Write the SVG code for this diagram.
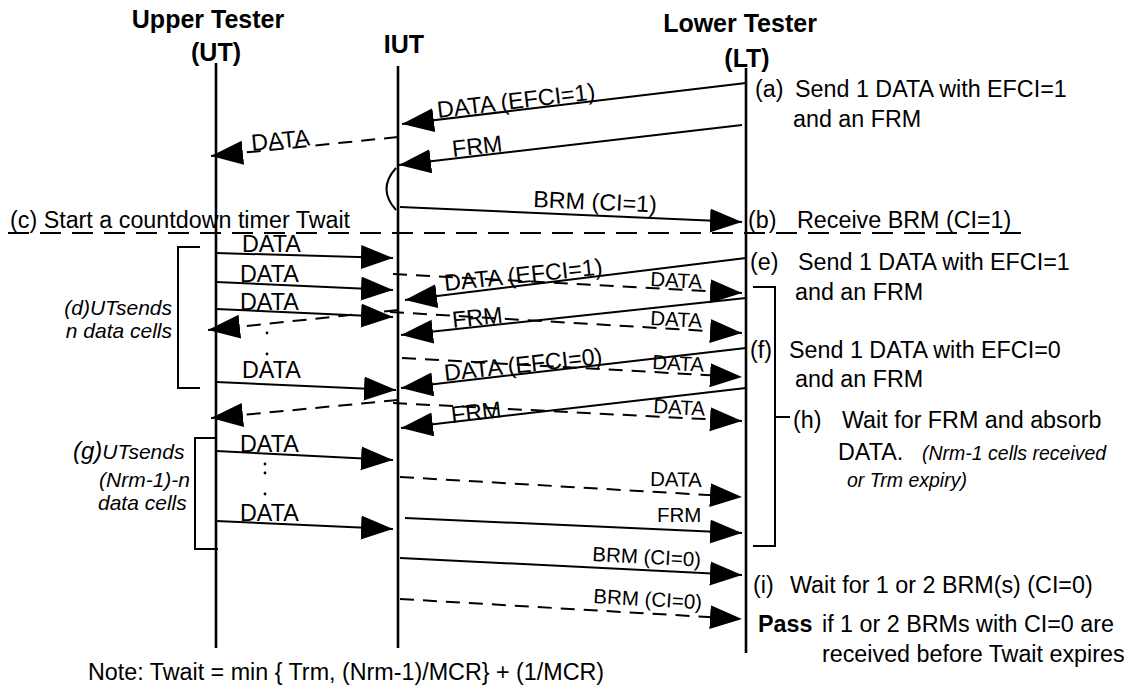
<svg xmlns="http://www.w3.org/2000/svg" width="1133" height="688" viewBox="0 0 1133 688">
<style>
text{font-family:"Liberation Sans",Arial,sans-serif;fill:#000}
.t{font-size:25px;font-weight:bold}
.n{font-size:23.3px}
.m{font-size:20.5px}
.i{font-size:21px;font-style:italic}
.life{stroke:#000;stroke-width:2.6;fill:none}
.s{stroke:#000;stroke-width:2;fill:none;marker-end:url(#ah)}
.d{stroke:#000;stroke-width:2;fill:none;stroke-dasharray:14 9;marker-end:url(#ah)}
.br{stroke:#000;stroke-width:2;fill:none}
.dot{fill:#000}
</style>
<defs>
<marker id="ah" markerUnits="userSpaceOnUse" markerWidth="33" markerHeight="25" refX="32" refY="12" orient="auto">
<path d="M0,0 L32,12 L0,24 z" fill="#000"/>
</marker>
</defs>
<rect width="1133" height="688" fill="#fff"/>

<g id="ut">
<text class="t" x="208" y="28" text-anchor="middle">Upper Tester</text>
<text class="t" x="216" y="61" text-anchor="middle">(UT)</text>
<line class="life" x1="216" y1="63" x2="216" y2="648"/>
</g>
<g id="iut">
<text class="t" x="404" y="53" text-anchor="middle">IUT</text>
<line class="life" x1="398" y1="66" x2="398" y2="648"/>
</g>
<g id="lt">
<text class="t" x="740" y="32" text-anchor="middle">Lower Tester</text>
<text class="t" x="747" y="67" text-anchor="middle">(LT)</text>
<line class="life" x1="746" y1="68" x2="746" y2="653"/>
</g>

<g id="timer">
<line x1="8" y1="233" x2="1030" y2="233" stroke="#000" stroke-width="2" stroke-dasharray="21 11"/>
<text class="n" x="10" y="228">(c) Start a countdown timer Twait</text>
</g>

<g id="connectors">
<line class="s" x1="746" y1="83" x2="402" y2="124"/>
<text class="n" x="438" y="118" transform="rotate(-6.8 438 118)">DATA (EFCI=1)</text>
<line class="s" x1="742" y1="125" x2="399" y2="165"/>
<text class="n" x="453" y="157" transform="rotate(-6.6 453 157)">FRM</text>
<line class="d" x1="398" y1="137" x2="211" y2="156"/>
<text class="n" x="252" y="151" transform="rotate(-5.8 252 151)">DATA</text>
<path class="br" d="M396,168 Q377,189 396,210"/>
<line class="s" x1="400" y1="207" x2="742" y2="222"/>
<text class="n" x="533" y="207" transform="rotate(2.5 533 207)">BRM (CI=1)</text>

<line class="s" x1="216" y1="253" x2="393" y2="258"/>
<text class="n" x="242" y="252">DATA</text>
<line class="s" x1="216" y1="282" x2="393" y2="290"/>
<text class="n" x="240" y="282">DATA</text>
<line class="s" x1="216" y1="309" x2="393" y2="317"/>
<text class="n" x="240" y="310">DATA</text>
<circle class="dot" cx="267" cy="333" r="1.4"/>
<circle class="dot" cx="267" cy="354" r="1.4"/>
<line class="s" x1="216" y1="382" x2="396" y2="390"/>
<text class="n" x="242" y="378">DATA</text>

<line class="d" x1="393" y1="274" x2="742" y2="293"/>
<text class="m" x="650" y="286" transform="rotate(3 650 286)">DATA</text>
<line class="s" x1="746" y1="258" x2="405" y2="300"/>
<text class="n" x="445" y="291" transform="rotate(-6 445 291)">DATA (EFCI=1)</text>
<line class="d" x1="398" y1="310" x2="208" y2="330"/>
<line class="d" x1="390" y1="312" x2="742" y2="333"/>
<text class="m" x="650" y="325" transform="rotate(3 650 325)">DATA</text>
<line class="s" x1="746" y1="298" x2="401" y2="335"/>
<text class="n" x="453" y="328" transform="rotate(-6.1 453 328)">FRM</text>
<line class="d" x1="402" y1="358" x2="742" y2="377"/>
<text class="m" x="652" y="369" transform="rotate(3 652 369)">DATA</text>
<line class="s" x1="746" y1="348" x2="401" y2="388"/>
<text class="n" x="445" y="381" transform="rotate(-6.2 445 381)">DATA (EFCI=0)</text>
<line class="d" x1="393" y1="403" x2="742" y2="421"/>
<text class="m" x="653" y="413" transform="rotate(3 653 413)">DATA</text>
<line class="s" x1="746" y1="388" x2="401" y2="428"/>
<text class="n" x="452" y="423" transform="rotate(-6.6 452 423)">FRM</text>
<line class="d" x1="398" y1="400" x2="211" y2="418"/>

<line class="s" x1="216" y1="451" x2="393" y2="460"/>
<text class="n" x="240" y="452">DATA</text>
<circle class="dot" cx="265" cy="464" r="1.4"/>
<circle class="dot" cx="265" cy="473" r="1.4"/>
<circle class="dot" cx="265" cy="494" r="1.4"/>
<line class="s" x1="216" y1="521" x2="393" y2="529"/>
<text class="n" x="240" y="521">DATA</text>

<line class="d" x1="400" y1="477" x2="742" y2="497"/>
<text class="m" x="650" y="486" transform="rotate(1 650 486)">DATA</text>
<line class="s" x1="405" y1="518" x2="742" y2="533"/>
<text class="m" x="657" y="522">FRM</text>
<line class="s" x1="400" y1="558" x2="742" y2="575"/>
<text class="m" x="592" y="561" transform="rotate(3 592 561)">BRM (CI=0)</text>
<line class="d" x1="400" y1="599" x2="742" y2="619"/>
<text class="m" x="593" y="603" transform="rotate(3.3 593 603)">BRM (CI=0)</text>
</g>

<g id="bracket-d">
<path class="br" d="M200,247 H178 V388 H200"/>
<text class="i" x="172" y="315" text-anchor="end">(d)UTsends</text>
<text class="i" x="172" y="338" text-anchor="end">n data cells</text>
</g>
<g id="bracket-g">
<path class="br" d="M216,438 H195 V549 H218"/>
<text class="i" x="73" y="459"><tspan font-size="24">(g)</tspan>UTsends</text>
<text class="i" x="190" y="487" text-anchor="end">(Nrm-1)-n</text>
<text class="i" x="98" y="510">data cells</text>
</g>
<g id="bracket-h">
<path class="br" d="M753,287 H775 V546 H753"/>
<path class="br" d="M775,417 H790"/>
</g>

<g id="lt-notes">
<text class="n" x="755" y="97">(a)</text>
<text class="n" x="795" y="97">Send 1 DATA with EFCI=1</text>
<text class="n" x="793" y="127">and an FRM</text>
<text class="n" x="748" y="228">(b)</text>
<text class="n" x="797" y="228">Receive BRM (CI=1)</text>
<text class="n" x="750" y="270">(e)</text>
<text class="n" x="798" y="270">Send 1 DATA with EFCI=1</text>
<text class="n" x="795" y="300">and an FRM</text>
<text class="n" x="750" y="358">(f)</text>
<text class="n" x="789" y="358">Send 1 DATA with EFCI=0</text>
<text class="n" x="795" y="387">and an FRM</text>
<text class="n" x="793" y="428">(h)</text>
<text class="n" x="842" y="428">Wait for FRM and absorb</text>
<text class="n" x="838" y="460">DATA.</text>
<text x="922" y="460" font-size="19.5" font-style="italic">(Nrm-1 cells received</text>
<text x="847" y="487" font-size="19.5" font-style="italic">or Trm expiry)</text>
<text class="n" x="753" y="593">(i)</text>
<text class="n" x="790" y="593">Wait for 1 or 2 BRM(s) (CI=0)</text>
<text class="n" x="758" y="632" font-weight="bold">Pass</text>
<text class="n" x="822" y="632">if 1 or 2 BRMs with CI=0 are</text>
<text class="n" x="822" y="662">received before Twait expires</text>
</g>

<g id="note">
<text class="n" x="88" y="680">Note: Twait = min { Trm, (Nrm-1)/MCR} + (1/MCR)</text>
</g>
</svg>
